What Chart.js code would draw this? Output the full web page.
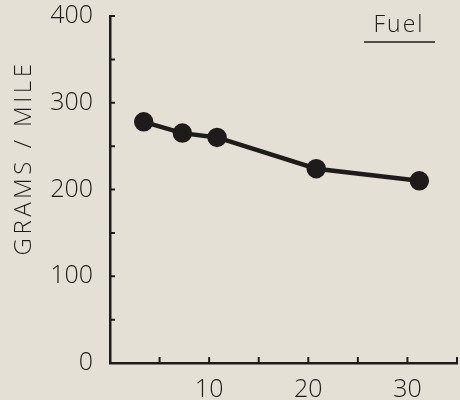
<!DOCTYPE html>
<html>
<head>
<meta charset="utf-8">
<script src="https://cdn.jsdelivr.net/npm/chart.js@4"></script>
<style>
    html, body { margin: 0; padding: 0; background: #e5e0d5; overflow: hidden; }
    #wrap { width: 460px; height: 400px; overflow: hidden; }
    #fuel { display: block; }
</style>
</head>
<body>
<div id="wrap"><canvas id="fuel" width="469" height="400"></canvas></div>
<script>
// values
const SPEEDS = [3.4, 7.3, 10.8, 20.8, 31.2]
const GRAMS = [278, 265, 260, 224, 210]
const Y_LABELS = [0, 100, 200, 300, 400]
const X_LABELS = [10, 20, 30]
const TITLE = 'Fuel'
const Y_TITLE = 'GRAMS / MILE'

const INK = '#1e1c1a'
const FONT = '"Open Sans", "DejaVu Sans", sans-serif'

// short tick marks pointing into the plot, the axis title and the "Fuel" note
const extras = {
    id: 'extras',
    afterDraw(chart) {
        const ctx = chart.ctx
        const x = chart.scales.x
        const y = chart.scales.y
        ctx.save()
        ctx.strokeStyle = INK
        ctx.lineWidth = 2
        ctx.beginPath()
        for (let t of y.ticks) {
            const py = y.getPixelForValue(t.value)
            ctx.moveTo(x.left, py)
            ctx.lineTo(x.left + 5, py)
        }
        for (let t of x.ticks) {
            if (t.value === 0) continue
            const px = x.getPixelForValue(t.value)
            ctx.moveTo(px, y.bottom)
            ctx.lineTo(px, y.bottom - 6)
        }
        ctx.stroke()

        ctx.fillStyle = INK
        ctx.textAlign = 'center'
        ctx.textBaseline = 'alphabetic'

        ctx.font = '300 23px ' + FONT
        ctx.letterSpacing = '2px'
        ctx.fillText(TITLE, 399, 32)
        ctx.lineWidth = 1.5
        ctx.beginPath()
        ctx.moveTo(364, 42)
        ctx.lineTo(435, 42)
        ctx.stroke()

        ctx.translate(31, 158)
        ctx.rotate(-Math.PI / 2)
        ctx.font = '300 24px ' + FONT
        ctx.letterSpacing = '3.5px'
        ctx.fillText(Y_TITLE, 0, 0)
        ctx.restore()
    }
}

const config = {
    type: 'line',
    data: {
        datasets: [{
            label: TITLE,
            data: SPEEDS.map((s, i) => ({ x: s, y: GRAMS[i] })),
            borderColor: INK,
            backgroundColor: INK,
            borderWidth: 4.5,
            pointRadius: 7.5,
            pointHoverRadius: 7.5,
            tension: 0
        }]
    },
    options: {
        responsive: false,
        animation: false,
        layout: { padding: { top: 16, right: 2, left: 0, bottom: 0 } },
        plugins: {
            legend: { display: false },
            tooltip: { enabled: false }
        },
        scales: {
            x: {
                type: 'linear',
                min: 0,
                max: 35,
                grid: { display: false },
                border: { display: true, color: INK, width: 2.5 },
                afterFit(scale) {
                    scale.height = 37
                    scale.paddingLeft = 0
                    scale.paddingRight = 0
                },
                ticks: {
                    stepSize: 5,
                    color: INK,
                    padding: 4,
                    maxRotation: 0,
                    font: { family: FONT, size: 25, weight: '300' },
                    callback: v => X_LABELS.includes(v) ? String(v) : ''
                }
            },
            y: {
                min: 0,
                max: 400,
                grid: { display: false },
                border: { display: true, color: INK, width: 2.5 },
                afterFit(scale) {
                    scale.width = 110
                    scale.paddingTop = 0
                    scale.paddingBottom = 0
                },
                ticks: {
                    stepSize: 50,
                    color: INK,
                    padding: 9,
                    font: { family: FONT, size: 25, weight: '300' },
                    callback: v => Y_LABELS.includes(v) ? String(v) : ''
                }
            }
        }
    },
    plugins: [extras]
}

new Chart(document.getElementById('fuel'), config)
</script>
</body>
</html>
